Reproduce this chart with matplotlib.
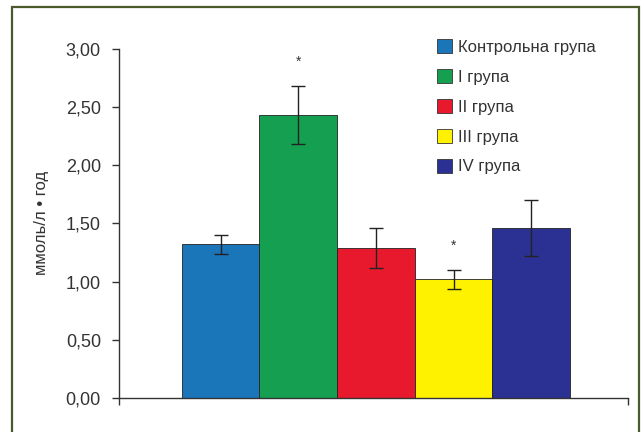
import matplotlib
matplotlib.use("Agg")
import matplotlib.pyplot as plt
import matplotlib.patches as patches
from matplotlib.ticker import FuncFormatter

# data
groups = ["Контрольна група", "I група", "II група", "III група", "IV група"]
values = [1.32, 2.43, 1.29, 1.02, 1.46]
errors = [0.08, 0.25, 0.17, 0.08, 0.24]
colors = ["#1b75b9", "#14a050", "#e8192c", "#fff200", "#2b3192"]
stars = [False, True, False, True, False]
yticks = [0.0, 0.5, 1.0, 1.5, 2.0, 2.5, 3.0]

plt.rcParams['font.family'] = ['Liberation Sans', 'DejaVu Sans']

fig = plt.figure(figsize=(6.43, 4.32), dpi=100)
fig.patch.set_facecolor("white")
ax = fig.add_axes([0.185, 0.079, 0.792, 0.808])
ax.set_facecolor("none")

x = list(range(len(groups)))
ax.bar(x, values, width=1.0, color=colors, edgecolor="#222222", linewidth=0.6)
ax.errorbar(x, values, yerr=errors, fmt="none", ecolor="#222222", elinewidth=1.0,
            capsize=5, capthick=1.0)

# significance marks
for xi, v, e, s in zip(x, values, errors, stars):
    if s:
        ax.text(xi, v + e + 0.21, "*", ha="center", va="center", fontsize=10, color="#333333")

xlo, xhi = -1.31, 5.25
ax.set_xlim(xlo, xhi)
ax.set_ylim(0, 3.0)
ax.set_yticks(yticks)
ax.yaxis.set_major_formatter(FuncFormatter(lambda v, p: f"{v:.2f}".replace(".", ",")))
ax.set_xticks([xlo, xhi])
ax.set_xticklabels(["", ""])
ax.tick_params(axis="both", direction="out", length=5, width=1.0, color="#333333",
               labelsize=13, labelcolor="#333333")
ax.tick_params(axis="y", pad=8)
for side in ["top", "right"]:
    ax.spines[side].set_visible(False)
for side in ["left", "bottom"]:
    ax.spines[side].set_color("#333333")
    ax.spines[side].set_linewidth(1.0)

ax.set_ylabel("ммоль/л • год", fontsize=12, color="#333333", labelpad=12)

handles = [patches.Patch(facecolor=c, edgecolor="#333333", linewidth=0.6) for c in colors]
ax.legend(handles, groups, loc="upper left", bbox_to_anchor=(0.595, 1.07), frameon=False,
          fontsize=12, handlelength=0.9, handleheight=0.9, handletextpad=0.35,
          labelspacing=0.85, labelcolor="#333333")

# outer frame (open at the bottom edge of the picture)
fig.patches.append(patches.Rectangle((12 / 643, -0.01), 627 / 643, 1 - 7 / 432 + 0.01,
                                     transform=fig.transFigure, fill=False,
                                     edgecolor="#4b5a2c", linewidth=1.6))

fig.savefig("out.png", dpi=100)
